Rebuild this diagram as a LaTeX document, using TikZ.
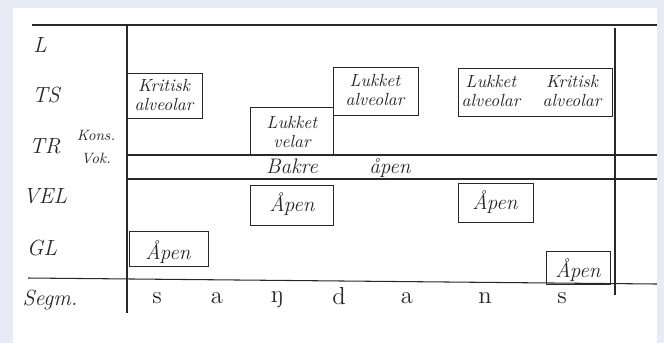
\documentclass[tikz,border=0pt]{standalone}
\usepackage{xcolor}
\usepackage{tikz}

\definecolor{frameblue}{RGB}{230,235,246}
\definecolor{pen}{RGB}{40,40,40}

\tikzset{
	pen line/.style={draw=pen, line width=0.6pt},
	gesture/.style={draw=pen, line width=0.55pt},
	tier/.style={font=\fontsize{12.5}{12.5}\selectfont\itshape, text=pen},
	subtier/.style={font=\fontsize{8.5}{8.5}\selectfont\itshape, text=pen},
	gesttext/.style={font=\fontsize{10}{10.5}\selectfont\itshape, text=pen, align=center},
	opentext/.style={font=\fontsize{12}{12}\selectfont\itshape, text=pen},
	segm/.style={font=\fontsize{14}{14}\selectfont, text=pen}
}

\begin{document}
\begin{tikzpicture}[x=0.02cm, y=-0.02cm]

	\fill[frameblue] (0,0) rectangle (664,343);
	\fill[white] (13,8) rectangle (657,343);
	\useasboundingbox (0,0) rectangle (664,343);

	% tier lines
	\draw[pen line] (32,25)--(657,25);
	\draw[pen line] (127,25)--(127,313);
	\draw[pen line] (615,28)--(615,295);
	\draw[pen line] (127,155)--(657,155);
	\draw[pen line] (127,179)--(657,179);
	\draw[pen line] (28,278)--(657,284);

	% tier labels
	\node[tier] (L) at (40,45) {L};
	\node[tier] (TS) at (46,95) {TS};
	\node[tier] (TR) at (45,146) {TR};
	\node[subtier] (kons) at (96,135) {Kons.};
	\node[subtier] (vok) at (96,158) {Vok.};
	\node[tier] (VEL) at (45,196) {VEL};
	\node[tier] (GL) at (42,248) {GL};
	\node[tier] (segmlabel) at (50,300) {Segm.};

	% TS gestures
	\draw[gesture] (127,73) rectangle (202,118);
	\node[gesttext] (krit1) at (164,95) {Kritisk\\alveolar};
	\draw[gesture] (250,107) rectangle (333,155);
	\node[gesttext] (lukvel) at (292,132) {Lukket\\velar};
	\draw[gesture] (333,67) rectangle (418,115);
	\node[gesttext] (lukalv1) at (375,90) {Lukket\\alveolar};
	\draw[gesture] (458,68) rectangle (612,116);
	\node[gesttext] (lukalv2) at (491,91) {Lukket\\alveolar};
	\node[gesttext] (krit2) at (572,91) {Kritisk\\alveolar};

	% TR vowel
	\node[opentext, anchor=base] (bakre) at (292,173) {Bakre};
	\node[opentext, anchor=base] (bakreopen) at (390,173) {åpen};

	% VEL gestures
	\draw[gesture] (250,185) rectangle (333,225);
	\node[opentext] (vel1) at (292,204) {Åpen};
	\draw[gesture] (458,183) rectangle (533,222);
	\node[opentext] (vel2) at (495,202) {Åpen};

	% GL gestures
	\draw[gesture] (129,231) rectangle (208,266);
	\node[opentext] (gl1) at (168,252) {Åpen};
	\draw[gesture] (546,251) rectangle (610,284);
	\node[opentext] (gl2) at (578,270) {Åpen};

	% segments
	\node[segm] (s1) at (157,298) {s};
	\node[segm] (a1) at (217,298) {a};
	\node[segm] (ng) at (277,300) {ŋ};
	\node[segm] (d) at (339,296) {d};
	\node[segm] (a2) at (407,298) {a};
	\node[segm] (n) at (485,298) {n};
	\node[segm] (s2) at (562,298) {s};

\end{tikzpicture}
\end{document}
